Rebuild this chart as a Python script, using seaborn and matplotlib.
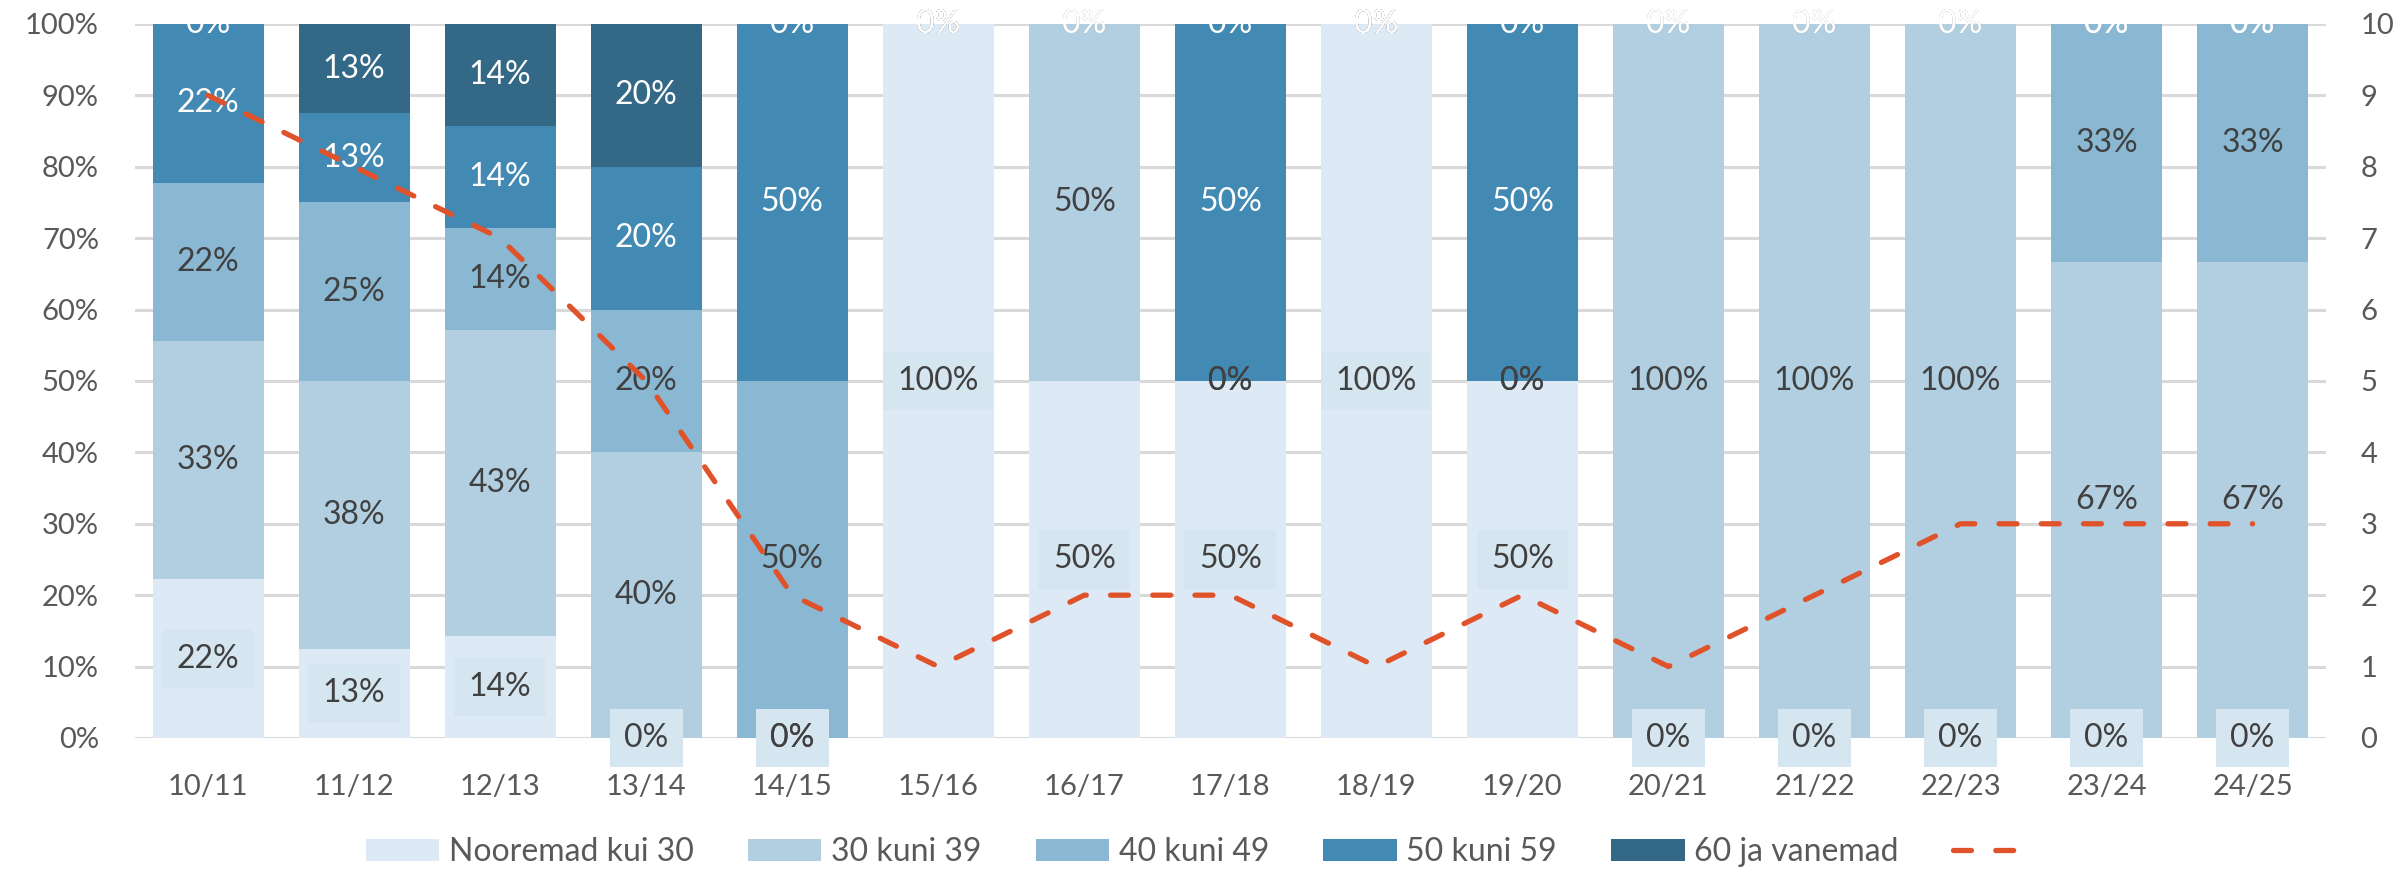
import numpy as np
import pandas as pd
import matplotlib.pyplot as plt
import seaborn as sns
from matplotlib.patches import Patch
from matplotlib.lines import Line2D

# ------- data -------
hooajad = ["10/11", "11/12", "12/13", "13/14", "14/15", "15/16", "16/17", "17/18",
           "18/19", "19/20", "20/21", "21/22", "22/23", "23/24", "24/25"]
alla_30 = [2, 1, 1, 0, 0, 1, 1, 1, 1, 1, 0, 0, 0, 0, 0]
v30_39 = [3, 3, 3, 2, 0, 0, 1, 0, 0, 0, 1, 2, 3, 2, 2]
v40_49 = [2, 2, 1, 1, 1, 0, 0, 0, 0, 0, 0, 0, 0, 1, 1]
v50_59 = [2, 1, 1, 1, 1, 0, 0, 1, 0, 1, 0, 0, 0, 0, 0]
v60 = [0, 1, 1, 1, 0, 0, 0, 0, 0, 0, 0, 0, 0, 0, 0]
kokku = [9, 8, 7, 5, 2, 1, 2, 2, 1, 2, 1, 2, 3, 3, 3]

sarjad = ["Nooremad kui 30", "30 kuni 39", "40 kuni 49", "50 kuni 59", "60 ja vanemad"]
varvid = ["#dde9f4", "#b1cfe1", "#8ab8d3", "#4289b4", "#336887"]
tekstivarvid = ["#404040", "#404040", "#404040", "white", "white"]
joone_varv = "#e0522a"
# -------------------------------------------

sns.set_theme(style="white")
plt.rcParams["font.family"] = ["Lato", "DejaVu Sans"]
fs_tick = 21
fs_lab = 23
fs_leg = 23

counts = pd.DataFrame(
    {s: v for s, v in zip(sarjad, [alla_30, v30_39, v40_49, v50_59, v60])},
    index=hooajad)
share = counts.div(counts.sum(axis=1), axis=0) * 100
cum = share.cumsum(axis=1)

fig = plt.figure(figsize=(24.02, 8.75), dpi=100)
ax = fig.add_axes([0.0562, 0.1566, 0.912, 0.816])

# stacked bars: draw cumulative totals from the top down
for i in range(len(sarjad) - 1, -1, -1):
    sns.barplot(x=hooajad, y=cum.iloc[:, i].values, color=varvid[i], saturation=1,
                width=0.76, linewidth=0, errorbar=None, ax=ax, zorder=2)

# data labels
for i, s in enumerate(sarjad):
    bottom = cum.iloc[:, i].values - share.iloc[:, i].values
    for j in range(len(hooajad)):
        val = share.iloc[j, i]
        y = bottom[j] + val / 2
        txt = f"{int(val + 0.5)}%"
        kw = {}
        if i == 0:
            kw["bbox"] = dict(boxstyle="square,pad=0.45", facecolor="#d6e6f0",
                              edgecolor="none")
        ax.text(j, y, txt, ha="center", va="center", fontsize=fs_lab,
                color=tekstivarvid[i], zorder=5, **kw)

ax.set_xlim(-0.5, len(hooajad) - 0.5)
ax.set_ylim(0, 100)
ax.set_yticks(np.arange(0, 101, 10))
ax.set_yticklabels([f"{v}%" for v in range(0, 101, 10)])
ax.yaxis.grid(True, color="#d9d9d9", linewidth=2.2, zorder=0)
ax.set_axisbelow(True)
ax.tick_params(axis="y", length=0, pad=26, labelsize=fs_tick, labelcolor="#595959")
ax.tick_params(axis="x", length=0, pad=26, labelsize=fs_tick, labelcolor="#595959")
ax.set_xlabel("")
ax.set_ylabel("")
for sp in ax.spines.values():
    sp.set_visible(False)

# total count line on secondary axis
ax2 = ax.twinx()
sns.lineplot(x=np.arange(len(hooajad)), y=kokku, ax=ax2, color=joone_varv,
             linewidth=3.8, linestyle=(0, (3.4, 4.6)), dash_capstyle="round")
ax2.set_ylim(0, 10)
ax2.set_yticks(range(0, 11))
ax2.tick_params(axis="y", length=0, pad=25, labelsize=fs_tick, labelcolor="#595959")
ax2.set_ylabel("")
for sp in ax2.spines.values():
    sp.set_visible(False)

handles = [Patch(facecolor=c, edgecolor="none") for c in varvid]
handles.append(Line2D([0], [0], color=joone_varv, linewidth=3.8,
                      linestyle=(0, (3.4, 4.6)), dash_capstyle="round"))
labels = sarjad + [""]
fig.legend(handles, labels, loc="center", bbox_to_anchor=(0.5, 0.026), ncol=6,
           frameon=False, fontsize=fs_leg, labelcolor="#595959", handlelength=2.3,
           handleheight=0.7, handletextpad=0.3, columnspacing=1.7)

fig.savefig("out.png", dpi=100)
